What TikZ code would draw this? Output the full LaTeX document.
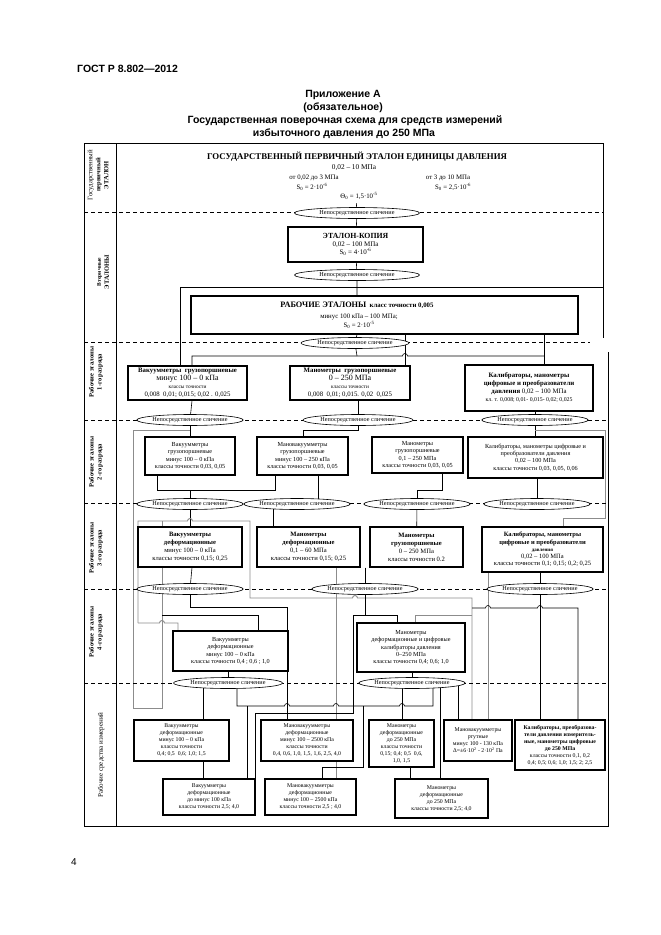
\documentclass[tikz,border=0pt]{standalone}
\usepackage{fontspec}
\setmainfont{Liberation Serif}
\newfontfamily\hdrfont{Liberation Sans}
\usetikzlibrary{shapes.geometric}
\pgfdeclarelayer{bg}
\pgfsetlayers{bg,main}
\tikzset{
  bx/.style={draw, line width=1.1pt, fill=white, align=center, inner sep=0.5pt, font=\fontsize{6.2}{7.3}\selectfont},
  bxc/.style={bx, font=\fontsize{6.6}{8}\selectfont},
  bxs/.style={bx, font=\fontsize{5.8}{7}\selectfont},
  ell/.style={draw, ellipse, line width=0.6pt, fill=white, inner sep=0pt, minimum height=11pt, font=\fontsize{6.2}{6.5}\selectfont},
  ln/.style={line width=0.6pt},
  gln/.style={line width=0.9pt, black!45},
  dsh/.style={dash pattern=on 4pt off 3pt, line width=0.6pt},
  lbl/.style={rotate=90, align=center, inner sep=0pt, font=\bfseries\fontsize{6.5}{8}\selectfont},
  txt/.style={inner sep=0pt, font=\fontsize{6.8}{7}\selectfont},
  hdr/.style={inner sep=0pt, font=\hdrfont\bfseries\fontsize{10.5}{12}\selectfont},
}
\newcommand\hmp{arc[start angle=180,end angle=0,radius=2.5pt]}
\newcommand\sz{S\textsubscript{0}}
\begin{document}
\begin{tikzpicture}[x=1pt,y=-1pt]
\useasboundingbox (0,0) rectangle (661,935);
% header
\node[hdr, anchor=west] (gost) at (77,69) {ГОСТ Р 8.802—2012};
\node[hdr] (pril) at (343,95) {Приложение А};
\node[hdr] (obz) at (343,108) {(обязательное)};
\node[hdr] (ttl1) at (345,121) {Государственная поверочная схема для средств измерений};
\node[hdr] (ttl2) at (344,134) {избыточного давления до 250 МПа};
\node[inner sep=0pt, font=\hdrfont\fontsize{10}{12}\selectfont] (pgn) at (74,862) {4};
% frame
\draw[line width=0.8pt] (603,143) -- (84,143) -- (84,826) -- (608,826) -- (608,352);
\draw[line width=0.8pt] (603,143) -- (603,338);
\draw[line width=0.8pt] (116,143) -- (116,826);
\draw[dsh] (84,212) -- (603,212);
\draw[dsh] (84,342) -- (590,342);
\foreach \yy in {420,503,589,683} \draw[dsh] (84,\yy) -- (608,\yy);
% left labels
\node[lbl] (lab1) at (98,175) {\mdseries\fontsize{6.8}{8.5}\selectfont Государственный\\первичный\\ЭТАЛОН};
\node[lbl] (lab2) at (103,272) {{\fontsize{5.5}{8}\selectfont Вторичные}\\ЭТАЛОНЫ};
\node[lbl] (lab3) at (96,372) {Рабочие эталоны\\1-го разряда};
\node[lbl] (lab4) at (96,462) {Рабочие эталоны\\2-го разряда};
\node[lbl] (lab5) at (96,548) {Рабочие эталоны\\3-го разряда};
\node[lbl] (lab6) at (96,632) {Рабочие эталоны\\4-го разряда};
\node[lbl] (lab7) at (101,755) {\mdseries\fontsize{7}{8}\selectfont Рабочие средства измерений};

% ---------- primary standard
\node[draw, double, double distance=1.2pt, line width=0.6pt, minimum width=293pt, minimum height=54pt, fill=white] (t0) at (354.5,175) {};
\node[txt, font=\bfseries\fontsize{8.8}{9}\selectfont] (t0a) at (357,157) {ГОСУДАРСТВЕННЫЙ ПЕРВИЧНЫЙ ЭТАЛОН ЕДИНИЦЫ ДАВЛЕНИЯ};
\node[txt, font=\fontsize{7.3}{8}\selectfont] (t0b) at (354,168) {0,02 – 10 МПа};
\node[txt] (t0c) at (314,178) {от 0,02 до 3 МПа};
\node[txt] (t0d) at (448,178) {от 3 до 10 МПа};
\node[txt] (t0e) at (312,186.5) {\sz\ = 2·10\textsuperscript{-6}};
\node[txt] (t0f) at (453,186.5) {\sz\ = 2,5·10\textsuperscript{-6}};
\node[txt] (t0g) at (359,196) {Θ\textsubscript{0} = 1,5·10\textsuperscript{-5}};

\node[ell, minimum width=125pt] (e1) at (357,213) {Непосредственное сличение};
\node[bx, font=\fontsize{7}{8}\selectfont, minimum width=135pt, minimum height=35pt] (kop) at (355.5,244.5) {\textbf{\fontsize{7.8}{8}\selectfont ЭТАЛОН-КОПИЯ}\\0,02 – 100 МПа\\\sz\ = 4·10\textsuperscript{-6}};
\node[ell, minimum width=125pt] (e2) at (357,275) {Непосредственное сличение};
\node[bx, minimum width=387pt, minimum height=38pt] (wrk) at (384.5,315) {};
\node[txt] (wrka) at (357,305) {\textbf{\fontsize{8.3}{9}\selectfont РАБОЧИЕ ЭТАЛОНЫ}\ \ \textbf{класс точности 0,005}};
\node[txt] (wrkb) at (359,317) {минус 100 кПа – 100 МПа;};
\node[txt] (wrkc) at (359,325) {\sz\ = 2·10\textsuperscript{-5}};
\node[ell, minimum width=108pt] (e3) at (355,343) {Непосредственное сличение};

% ---------- 1st grade
\node[bx, font=\fontsize{6.8}{8}\selectfont, minimum width=119pt, minimum height=34pt] (a1) at (187.5,383) {\textbf{Вакуумметры\ \ грузопоршневые}\\{\fontsize{8}{8}\selectfont минус 100 – 0 кПа}\\{\fontsize{5.3}{8}\selectfont классы точности}\\0,008\ \ 0,01; 0,015; 0,02 . 0,025};
\node[bx, font=\fontsize{6.8}{8}\selectfont, minimum width=120pt, minimum height=34pt] (a2) at (350,383) {\textbf{Манометры\ \ грузопоршневые}\\{\fontsize{8}{8}\selectfont 0 – 250 МПа}\\{\fontsize{5.3}{8}\selectfont классы точности}\\0,008\ \ 0,01; 0,015. 0,02\ \ 0,025};
\node[bx, font=\fontsize{6.8}{8}\selectfont, minimum width=128pt, minimum height=46pt] (a3) at (529,388) {\textbf{Калибраторы, манометры}\\\textbf{цифровые и преобразователи}\\\textbf{давления} 0,02 – 100 МПа\\{\fontsize{5.8}{8}\selectfont кл. т. 0,008; 0,01- 0,015- 0,02; 0,025}};

\node[ell, minimum width=105pt] (e4a) at (190,420) {Непосредственное сличение};
\node[ell, minimum width=110pt] (e4b) at (358,420) {Непосредственное сличение};
\node[ell, minimum width=105pt] (e4c) at (535,420) {Непосредственное сличение};

% ---------- 2nd grade
\node[bx, minimum width=90pt, minimum height=38pt] (b1) at (190,456) {Вакуумметры\\грузопоршневые\\минус 100 – 0 кПа\\классы точности 0,03, 0,05};
\node[bx, minimum width=91pt, minimum height=38pt] (b2) at (302.5,456) {Мановакуумметры\\грузопоршневые\\минус 100 – 250 кПа\\классы точности 0,03, 0,05};
\node[bx, minimum width=91pt, minimum height=36pt] (b3) at (417.5,455) {Манометры\\грузопоршневые\\0,1 – 250 МПа\\классы точности 0,03, 0,05};
\node[bx, minimum width=135pt, minimum height=41pt] (b4) at (535.5,457.5) {Калибраторы, манометры цифровые и\\преобразователи давления\\0,02 – 100 МПа\\классы точности 0,03, 0,05, 0,06};

\node[ell, minimum width=105pt] (e5a) at (190,504) {Непосредственное сличение};
\node[ell, minimum width=95pt] (e5b) at (297,504) {Непосредственное сличение};
\node[ell, minimum width=105pt] (e5c) at (417,504) {Непосредственное сличение};
\node[ell, minimum width=100pt] (e5d) at (537,504) {Непосредственное сличение};

% ---------- 3rd grade
\node[bxc, minimum width=104pt, minimum height=40pt] (c1) at (190,547) {\textbf{Вакуумметры}\\\textbf{деформационные}\\минус 100 – 0 кПа\\классы точности 0,15; 0,25};
\node[bxc, minimum width=103pt, minimum height=40pt] (c2) at (308.5,547) {\textbf{Манометры}\\\textbf{деформационные}\\0,1 – 60 МПа\\классы точности 0,15; 0,25};
\node[bxc, minimum width=93pt, minimum height=40pt] (c3) at (416.5,547) {\textbf{Манометры}\\\textbf{грузопоршневые}\\0 – 250 МПа\\классы точности 0.2};
\node[bxc, font=\fontsize{6.5}{7.3}\selectfont, minimum width=121pt, minimum height=45pt] (c4) at (542.5,549.5) {\textbf{Калибраторы, манометры}\\\textbf{цифровые и преобразователи}\\{\fontsize{5}{7}\selectfont\textbf{давления}}\\0,02 – 100 МПа\\классы точности 0,1; 0,15; 0,2; 0,25};

\node[ell, minimum width=105pt] (e6a) at (190,589) {Непосредственное сличение};
\node[ell, minimum width=104pt] (e6b) at (365,589) {Непосредственное сличение};
\node[ell, minimum width=106pt] (e6c) at (540,589) {Непосредственное сличение};

% ---------- 4th grade
\node[bx, minimum width=115pt, minimum height=40pt] (d1) at (230.5,651) {Вакуумметры\\деформационные\\минус 100 – 0 кПа\\классы точности 0,4 ; 0,6 ; 1,0};
\node[bx, minimum width=108pt, minimum height=49pt] (d2) at (411,647.5) {Манометры\\деформационные и цифровые\\калибраторы давления\\0–250 МПа\\классы точности 0,4; 0,6; 1,0};

\node[ell, minimum width=109pt] (e7a) at (228,683) {Непосредственное сличение};
\node[ell, minimum width=102pt] (e7b) at (412,683) {Непосредственное сличение};

% ---------- working instruments
\node[bxs, minimum width=95pt, minimum height=41pt] (f1) at (181.5,740.5) {Вакуумметры\\деформационные\\минус 100 – 0 кПа\\классы точности\\0,4; 0,5\ \ 0,6; 1,0; 1,5};
\node[bxs, minimum width=92pt, minimum height=41pt] (f2) at (307,740.5) {Мановакуумметры\\деформационные\\минус 100 – 2500 кПа\\классы точности\\0,4, 0,6, 1,0, 1,5, 1,6, 2,5, 4,0};
\node[bxs, minimum width=65pt, minimum height=47pt] (f3) at (401.5,743.5) {Манометры\\деформационные\\до 250 МПа\\классы точности\\0,15; 0,4; 0,5\ \ 0,6,\\1,0, 1,5};
\node[bxs, minimum width=68pt, minimum height=41pt] (f4) at (478,740.5) {Мановакуумметры\\ртутные\\минус 100 - 130 кПа\\Δ=±6·10\textsuperscript{2} - 2·10\textsuperscript{2} Па};
\node[bxs, line width=1.8pt, minimum width=90pt, minimum height=50pt] (f5) at (560,745) {\textbf{Калибраторы, преобразова-}\\\textbf{тели давления измеритель-}\\\textbf{ные, манометры цифровые}\\\textbf{до 250 МПа}\\классы точности 0,1, 0,2\\0,4; 0,5; 0,6; 1,0; 1,5; 2; 2,5};
\node[bxs, minimum width=92pt, minimum height=36pt] (g1) at (209,797) {Вакуумметры\\деформационные\\до минус 100 кПа\\классы точности 2,5; 4,0};
\node[bxs, minimum width=91pt, minimum height=36pt] (g2) at (310.5,797) {Мановакуумметры\\деформационные\\минус 100 – 2500 кПа\\классы точности 2,5 ; 4,0};
\node[bxs, minimum width=93pt, minimum height=39pt] (g3) at (441.5,798.5) {Манометры\\деформационные\\до 250 МПа\\классы точности 2,5; 4,0};

% ---------- connectors
\begin{pgfonlayer}{bg}
\draw[ln] (t0) -- (e1) -- (kop) -- (e2) -- (357,0 |- wrk.north);
\draw[ln] (357,0 |- wrk.south) -- (e3);
\draw[ln] (180,0 |- a1.north) -- (180,287) -- (603,287);
% row 3
\draw[ln] (e3) -- (357,356);
\draw[ln] (192,0 |- a1.north) -- (192,356) -- (402.5,356) \hmp -- (544,356);
\draw[ln] (405,0 |- wrk.south) -- (405,0 |- a2.north);
\draw[ln] (544,0 |- wrk.south) -- (544,0 |- a3.north);
\draw[ln] (192,0 |- a1.south) -- (e4a);
\draw[ln] (358,0 |- a2.south) -- (e4b);
\draw[ln] (535,0 |- a3.south) -- (e4c);
% row 4
\draw[ln] (e4a) -- (b1);
\draw[gln] (190,430) -- (133,430) -- (133,708) -- (162,708) -- (162,521);
\draw[ln] (e4b) -- (358,430) -- (303,430) -- (303,0 |- b2.north);
\draw[ln] (e4c) -- (535,0 |- b4.north);
\draw[gln] (535,430) -- (605,430) -- (605,518) -- (563,518) -- (563,0 |- c4.north);
\draw[ln] (157,0 |- b1.south) -- (157,490) -- (275,490) -- (275,0 |- b2.south);
\draw[ln] (190,490) -- (e5a);
\draw[ln] (318,0 |- b2.south) -- (318,504);
\draw[ln] (442,0 |- b3.south) -- (442,490) -- (417,490) -- (e5c);
\draw[ln] (537,0 |- b4.south) -- (e5d);
% row 5
\draw[ln] (e5a) -- (c1);
\draw[gln] (138,623) -- (138,521) -- (187.5,521) \hmp -- (250,521) -- (250,598) -- (352.5,598) \hmp -- (472,598) -- (472,0 |- f4.north);
\draw[ln] (273,504) -- (273,0 |- c2.north);
\draw[ln] (e5c) -- (c3);
\draw[ln] (192,0 |- c1.south) -- (e6a);
\draw[ln] (365,0 |- c3.south) -- (e6b);
\draw[ln] (540,0 |- c4.south) -- (e6c);
\draw[gln] (336,0 |- c2.south) -- (336,0 |- g2.north);
\draw[gln] (488,0 |- c4.south) -- (488,0 |- f4.north);
% row 6
\draw[ln] (e6a) -- (190,607) -- (287,607) -- (287,0 |- f2.north);
\draw[ln] (162,615) -- (258,615) -- (258,0 |- d1.north);
\draw[gln] (138,623) -- (159.5,623) \hmp -- (178,623) -- (178,0 |- d1.north);
\draw[ln] (e6b) -- (365,615) -- (353,615) -- (353,713) -- (255,713) -- (255,0 |- g1.north);
\draw[ln] (365,615) -- (397,615) -- (397,0 |- d2.north);
\draw[gln] (472,615) -- (415,615) -- (415,0 |- d2.north);
\draw[ln] (e6c) -- (540,0 |- f5.north);
\draw[ln] (472,608) -- (485.5,608) \hmp -- (537.5,608) \hmp -- (578,608) -- (578,0 |- f5.north);
\draw[ln] (e7a) -- (228,0 |- d1.south);
\draw[ln] (e7b) -- (412,0 |- d2.south);
% row 7
\draw[ln] (203,0 |- e7a) -- (203,0 |- f1.north);
\draw[ln] (237,0 |- e7a) -- (237,706) -- (284.5,706) \hmp -- (333.5,706) \hmp -- (399.5,706) \hmp -- (433,706) -- (433,0 |- e7b);
\draw[ln] (247,706) -- (247,0 |- g1.north);
\draw[ln] (363,706) -- (363,767) -- (322,767) -- (322,0 |- g2.north);
\draw[ln] (402,0 |- e7b) -- (402,0 |- f3.north);
\draw[ln] (440,0 |- e7b) -- (440,0 |- g3.north);
\draw[ln] (458,0 |- e7b) -- (458,0 |- f4.north);
\draw[ln] (203,0 |- f1.south) -- (203,0 |- g1.north);
\draw[ln] (410,0 |- f3.south) -- (410,0 |- g3.north);
\end{pgfonlayer}
\end{tikzpicture}
\end{document}
